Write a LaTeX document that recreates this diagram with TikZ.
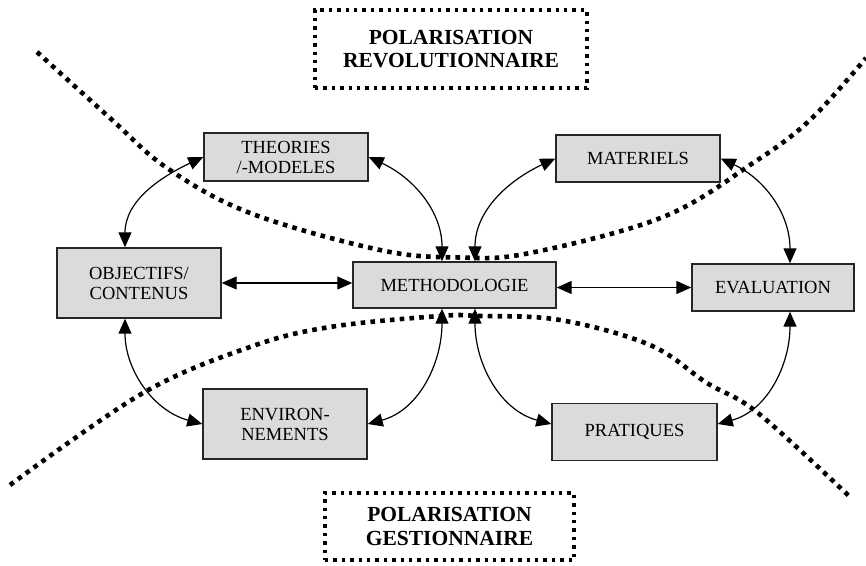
\documentclass[tikz,border=0pt]{standalone}
\usepackage{fontspec}
\setmainfont{Liberation Serif}
\usetikzlibrary{arrows.meta}
\tikzset{
  box/.style={draw=black!85, line width=1.4pt, fill=black!14, inner sep=0pt, align=center,
    font=\fontsize{18.5}{20}\selectfont},
  polbox/.style={draw=black, line width=3.4pt, dash pattern=on 3.4pt off 5pt, inner sep=0pt,
    align=center, font=\fontsize{21.5}{23.5}\selectfont\bfseries},
  link/.style={{Triangle[length=15pt,width=13pt]}-{Triangle[length=15pt,width=13pt]}, line width=1.2pt, black},
  dotcurve/.style={line width=4.6pt, dash pattern=on 4.6pt off 5.2pt, black}
}
\begin{document}
\begin{tikzpicture}[x=1pt,y=1pt]
\useasboundingbox (0,0) rectangle (866,565);
% dotted separating curves
\draw[dotcurve] plot[smooth, tension=0.6] coordinates {(37,513) (110,447) (167,397) (250,352) (380,315) (460,307.5) (530,312) (663,348) (753,402) (810,445) (866,507)};
\draw[dotcurve] plot[smooth, tension=0.6] coordinates {(10,80) (143,172) (250,218) (330,238) (440,249) (480,249) (560,245) (650,220) (707,182) (758,152) (850,68)};
% polarisation boxes
\node[polbox, minimum width=272pt, minimum height=78pt] (rev) at (451,516) {POLARISATION\\REVOLUTIONNAIRE};
\node[polbox, minimum width=249pt, minimum height=67pt] (ges) at (449.5,38.5) {POLARISATION\\GESTIONNAIRE};
% main boxes
\node[box, minimum width=164pt, minimum height=48pt] (th) at (286,408) {THEORIES\\/-MODELES};
\node[box, minimum width=164pt, minimum height=47pt] (mat) at (638,406.5) {MATERIELS};
\node[box, minimum width=164pt, minimum height=70pt] (obj) at (139,282) {OBJECTIFS/\\CONTENUS};
\node[box, minimum width=203pt, minimum height=46pt] (meth) at (454.5,280) {METHODOLOGIE};
\node[box, minimum width=162pt, minimum height=47pt] (eval) at (773,277.5) {EVALUATION};
\node[box, minimum width=164pt, minimum height=70pt] (env) at (285,141) {ENVIRON-\\NEMENTS};
\node[box, minimum width=165pt, minimum height=57pt] (prat) at (634.5,133) {PRATIQUES};
% straight links
\draw[link] (obj.east) -- (obj.east -| meth.west);
\draw[link] (eval.west -| meth.east) -- (eval.west);
% curved links
\draw[link] (th.west) to[out=205,in=90] ([xshift=-14pt]obj.north);
\draw[link] ([xshift=-14pt]obj.south) to[out=-90,in=165] (env.west);
\draw[link] (th.east) to[out=-25,in=90] ([xshift=-12.5pt]meth.north);
\draw[link] (mat.west) to[out=205,in=90] ([xshift=20.5pt]meth.north);
\draw[link] (mat.east) to[out=-25,in=90] ([xshift=17pt]eval.north);
\draw[link] ([xshift=-12.5pt]meth.south) to[out=-90,in=15] (env.east);
\draw[link] ([xshift=20.5pt]meth.south) to[out=-90,in=165] ([yshift=8pt]prat.west);
\draw[link] ([xshift=17pt]eval.south) to[out=-90,in=15] ([yshift=8pt]prat.east);
\end{tikzpicture}
\end{document}
